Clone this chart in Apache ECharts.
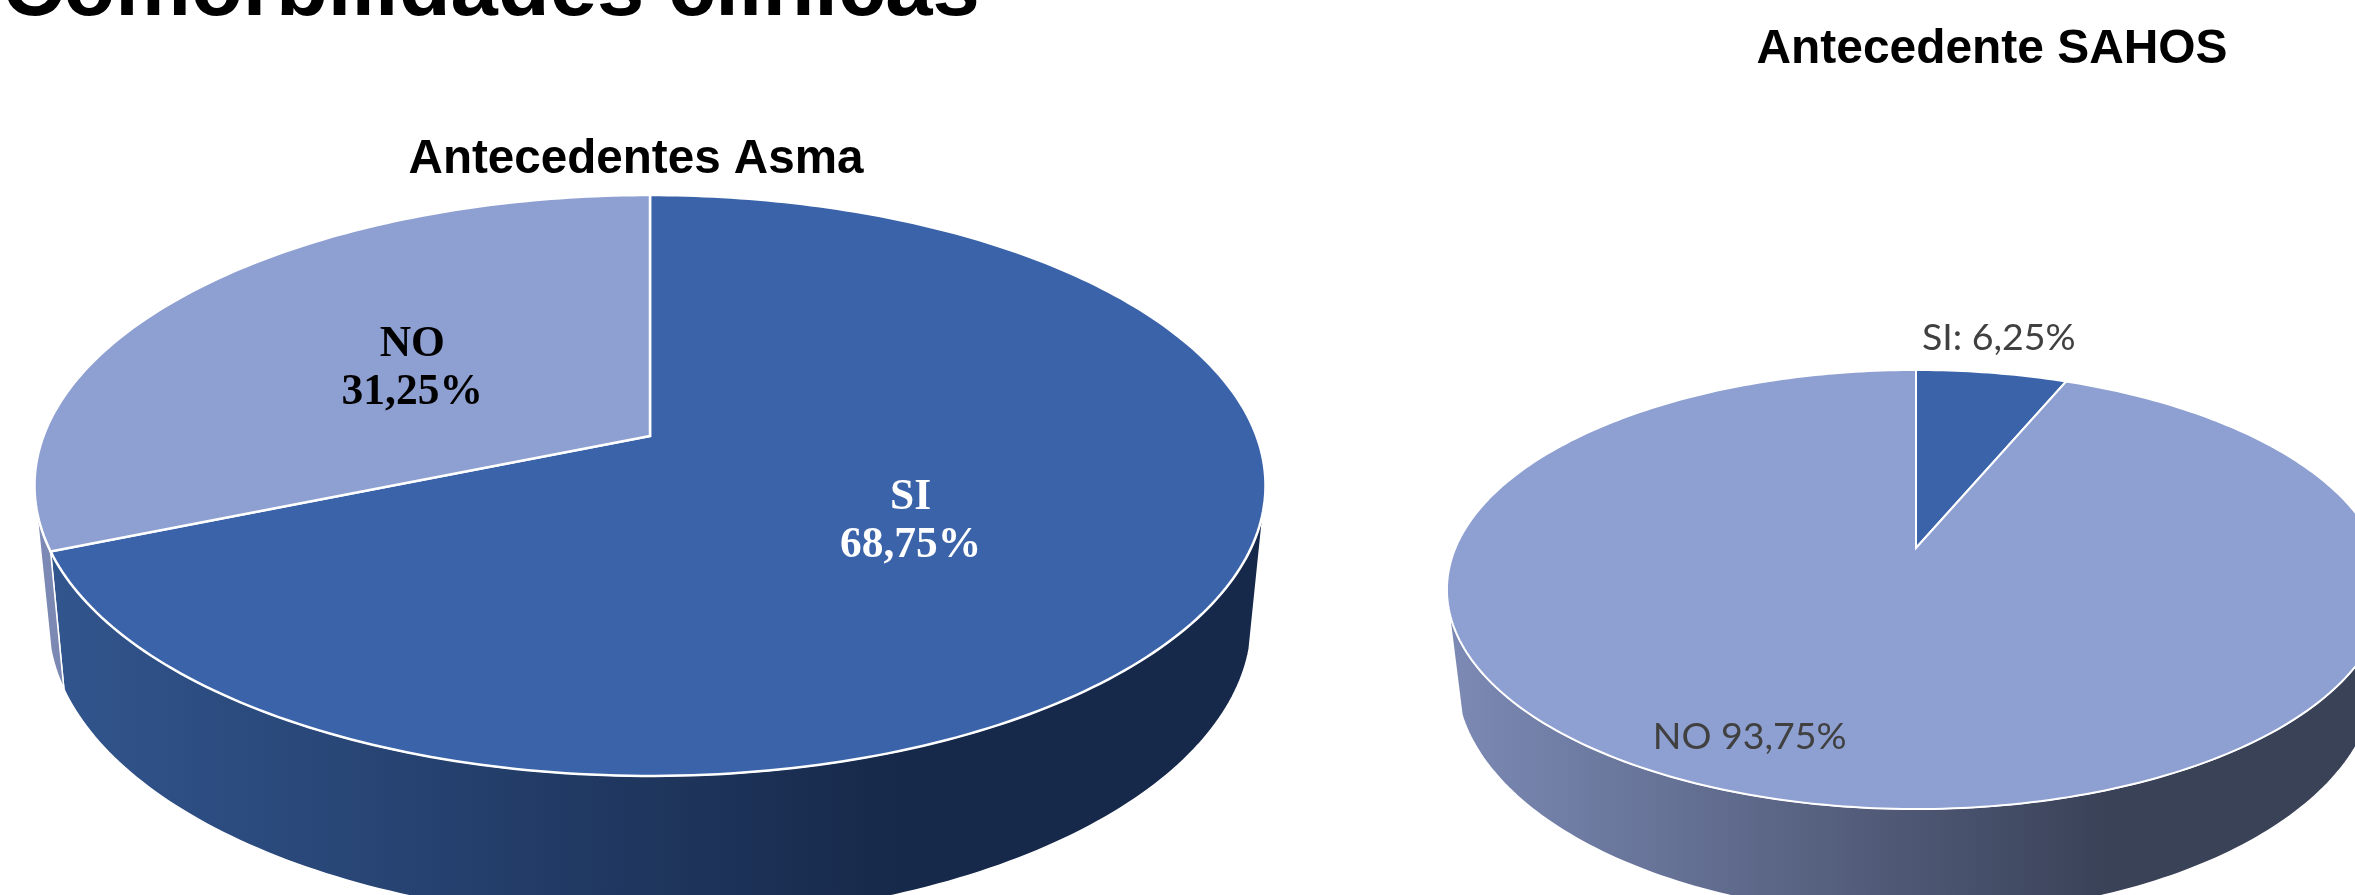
<!DOCTYPE html>
<html>
<head>
<meta charset="utf-8">
<title>Comorbilidades clínicas</title>
<script src="https://cdn.jsdelivr.net/npm/echarts@6/dist/echarts.min.js"></script>
<style>
	html, body {margin: 0; padding: 0; background: #fff; overflow: hidden;}
	#main {width: 2355px; height: 895px;}
</style>
</head>
<body>
<div id="main"></div>
<script>
var asmaCategories = ['SI', 'NO'];
var asmaValues = [68.75, 31.25];
var asmaLabels = ['SI\n68,75%', 'NO\n31,25%'];

var sahosCategories = ['SI', 'NO'];
var sahosValues = [6.25, 93.75];
var sahosLabels = ['SI: 6,25%', 'NO 93,75%'];

var topColors = ['#3b63a9', '#8e9fd1'];
var wallLight = ['#32568f', '#7c8ab5'];
var wallDark = ['#17294a', '#3a4258'];

// perspective discs: A, B = half axes before the projection, k = tilt
// cut = part of the rim that shows, in degrees clockwise from 12 o'clock
var asmaPie = {
	name: 'asma', categories: asmaCategories, values: asmaValues, labels: asmaLabels,
	cx: 650, k: 0.1704,
	top: {y: 436, A: 606.5, B: 282, cut: [104, 256]},
	bottom: {y: 570, A: 593, B: 291, cut: [105, 255]},
	gradient: [35, 1266],
	edge: 2.5,
	labelFont: {fontFamily: '"Liberation Serif"', fontSize: 43.5, fontWeight: 'bold', lineHeight: 48},
	labelFill: ['#fff', '#000'],
	labelOffset: [[-4, 4], [3, 8]]
};
var sahosPie = {
	name: 'sahos', categories: sahosCategories, values: sahosValues, labels: sahosLabels,
	cx: 1916, k: 0.189,
	top: {y: 548, A: 460.6, B: 211.7, cut: [105, 255]},
	bottom: {y: 630, A: 452, B: 232, cut: [110, 250]},
	gradient: [1447, 2385],
	edge: 2,
	labelFont: {fontFamily: 'Lato', fontSize: 37.5, fontWeight: 'normal', lineHeight: 44},
	labelFill: ['#404040', '#404040'],
	labelOffset: [[7, -35], [-56, -66]],
	labelRadius: 1
};

// angle in degrees, clockwise from 12 o'clock, r = 0..1
function project(pie, disc, angle, r) {
	var a = angle * Math.PI / 180;
	var u = Math.sin(a) * r;
	var v = Math.cos(a) * r;
	var w = 1 + pie.k * v;
	return [pie.cx + disc.A * u / w, disc.y - disc.B * v / w];
}

function arc(pie, disc, from, to) {
	var pts = [];
	var n = Math.max(1, Math.ceil(Math.abs(to - from)));
	for (var i = 0; i <= n; i++) {
		pts.push(project(pie, disc, from + (to - from) * i / n, 1));
	}
	return pts;
}

function sliceRange(pie, index) {
	var total = pie.values.reduce(function (s, x) { return s + x; }, 0);
	var start = 0;
	for (var i = 0; i < index; i++) {
		start += pie.values[i];
	}
	return [start / total * 360, (start + pie.values[index]) / total * 360];
}

function wallSeries(pie) {
	return {
		type: 'custom',
		name: pie.name + ' wall',
		coordinateSystem: 'none',
		z: 1,
		silent: true,
		animation: false,
		data: pie.values.map(function (v, i) { return [v, i]; }),
		renderItem: function (params, api) {
			var i = api.value(1);
			var range = sliceRange(pie, i);
			var topFrom = Math.max(range[0], pie.top.cut[0]);
			var topTo = Math.min(range[1], pie.top.cut[1]);
			var botFrom = Math.max(range[0], pie.bottom.cut[0]);
			var botTo = Math.min(range[1], pie.bottom.cut[1]);
			if (topFrom >= topTo || botFrom >= botTo) {
				return;
			}
			var pts = arc(pie, pie.top, topFrom, topTo).concat(arc(pie, pie.bottom, botTo, botFrom));
			return {
				type: 'polygon',
				shape: {points: pts},
				style: {
					fill: new echarts.graphic.LinearGradient(pie.gradient[0], 0, pie.gradient[1], 0, [
						{offset: 0, color: wallLight[i]},
						{offset: 0.7, color: wallDark[i]},
						{offset: 1, color: wallDark[i]}
					], true),
					stroke: '#fff',
					lineWidth: 1.5
				}
			};
		}
	};
}

function topSeries(pie) {
	return {
		type: 'custom',
		name: pie.name,
		coordinateSystem: 'none',
		z: 2,
		silent: true,
		animation: false,
		data: pie.values.map(function (v, i) { return [v, i]; }),
		renderItem: function (params, api) {
			var i = api.value(1);
			var range = sliceRange(pie, i);
			var pts = [[pie.cx, pie.top.y]].concat(arc(pie, pie.top, range[0], range[1]));
			var anchor = project(pie, pie.top, (range[0] + range[1]) / 2, pie.labelRadius || 0.5);
			return {
				type: 'group',
				children: [{
					type: 'polygon',
					shape: {points: pts},
					style: {fill: topColors[i], stroke: '#fff', lineWidth: pie.edge}
				}, {
					type: 'text',
					z2: 10,
					style: {
						text: pie.labels[i],
						x: anchor[0] + pie.labelOffset[i][0],
						y: anchor[1] + pie.labelOffset[i][1],
						align: 'center',
						verticalAlign: 'middle',
						fill: pie.labelFill[i],
						fontFamily: pie.labelFont.fontFamily,
						fontSize: pie.labelFont.fontSize,
						fontWeight: pie.labelFont.fontWeight,
						lineHeight: pie.labelFont.lineHeight
					}
				}]
			};
		}
	};
}

var chart = echarts.init(document.getElementById('main'));
var titleFont = '"Liberation Sans"';

chart.setOption({
	backgroundColor: '#fff',
	title: [{
		text: 'Comorbilidades clínicas',
		left: 2,
		top: -51,
		padding: 0,
		textStyle: {fontFamily: titleFont, fontWeight: 'bold', fontSize: 85, color: '#000'}
	}, {
		text: 'Antecedentes Asma',
		left: 636,
		top: 160,
		textAlign: 'center',
		textVerticalAlign: 'middle',
		padding: 0,
		textStyle: {fontFamily: titleFont, fontWeight: 'bold', fontSize: 47.6, color: '#000'}
	}, {
		text: 'Antecedente SAHOS',
		left: 1992,
		top: 50,
		textAlign: 'center',
		textVerticalAlign: 'middle',
		padding: 0,
		textStyle: {fontFamily: titleFont, fontWeight: 'bold', fontSize: 47.9, color: '#000'}
	}],
	series: [wallSeries(asmaPie), topSeries(asmaPie), wallSeries(sahosPie), topSeries(sahosPie)]
});

window.addEventListener('resize', function () {
	chart.resize();
});
</script>
</body>
</html>
